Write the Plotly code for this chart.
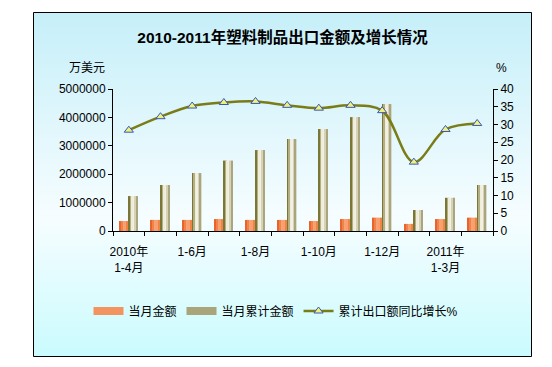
import plotly.graph_objects as go

categories = ["2010年1-4月", "1-5月", "1-6月", "1-7月", "1-8月", "1-9月", "1-10月",
              "1-11月", "1-12月", "2011年1-2月", "2011年1-3月", "2011年1-4月"]
tick_labels = ["2010年<br>1-4月", "", "1-6月", "", "1-8月", "", "1-10月", "",
               "1-12月", "", "2011年<br>1-3月", ""]
monthly = [350000, 390000, 390000, 420000, 390000, 390000, 350000, 420000, 470000, 250000, 420000, 470000]
cumulative = [1230000, 1620000, 2040000, 2480000, 2850000, 3240000, 3590000, 4010000, 4470000, 740000, 1170000, 1620000]
growth = [28.4, 32.2, 35.2, 36.2, 36.5, 35.4, 34.6, 35.4, 33.9, 19.4, 28.6, 30.3]

FONT = "Liberation Sans, Arial, Noto Sans CJK SC"
OFF = 8  # page body margin
W, H = 552 - OFF, 367 - OFF
L, R, T, B = 113, 493, 89, 231  # page coordinates of the plot area


def px(x):
    return (x - L) / (R - L)


def py(y):
    return (B - y) / (B - T)


fig = go.Figure()

ORANGE_MID = "#F39460"
CUM_MID = "#A9A47A"
LINE_COL = "#7A7C16"

# orange bars (gradient strips)
org_cols = ["#E9642C", "#F0824A", "#F7A272", "#F6A070", "#F08446"]
o0, o1 = -0.305, 0.0
n = len(org_cols)
for i, c in enumerate(org_cols):
    w = (o1 - o0) / n
    fig.add_trace(go.Bar(x=categories, y=monthly, offset=o0 + i * w, width=w,
                         marker=dict(color=c, line=dict(width=0)),
                         name="当月金额", legendgroup="m",
                         showlegend=False, yaxis="y", hoverinfo="y"))

cum_cols = ["#7A7636", "#B4AF82", "#EEECDC", "#F2F0E2", "#D6D2B6", "#ABA57E"]
c0, c1 = 0.0, 0.29
n = len(cum_cols)
for i, c in enumerate(cum_cols):
    w = (c1 - c0) / n
    fig.add_trace(go.Bar(x=categories, y=cumulative, offset=c0 + i * w, width=w,
                         marker=dict(color=c, line=dict(width=0)),
                         name="当月累计金额", legendgroup="c",
                         showlegend=False, yaxis="y", hoverinfo="y"))

# legend swatches for the bar series
fig.add_trace(go.Scatter(x=[None], y=[None], mode="lines", name="当月金额", legendgroup="m",
                         line=dict(color=ORANGE_MID, width=8)))
fig.add_trace(go.Scatter(x=[None], y=[None], mode="lines", name="当月累计金额", legendgroup="c",
                         line=dict(color=CUM_MID, width=8)))

fig.add_trace(go.Scatter(x=categories, y=growth, yaxis="y2", name="累计出口额同比增长%",
                         mode="lines+markers",
                         line=dict(color=LINE_COL, width=2.5, shape="spline", smoothing=1),
                         marker=dict(symbol="triangle-up", size=8, color="#EEF27A",
                                     line=dict(color="#3A56B8", width=1))))

# background box with vertical gradient
shapes = []
top, bot, mid = 12, 357, 218
c_top = (198, 239, 249)
c_mid = (246, 253, 255)
c_bot = (202, 251, 254)
step = 3
y = top
while y < bot:
    y2 = min(y + step, bot)
    yc = (y + y2) / 2
    if yc < mid:
        t = (yc - top) / (mid - top)
        col = tuple(round(c_top[k] + (c_mid[k] - c_top[k]) * t) for k in range(3))
    else:
        t = (yc - mid) / (bot - mid)
        col = tuple(round(c_mid[k] + (c_bot[k] - c_mid[k]) * t) for k in range(3))
    shapes.append(dict(type="rect", xref="paper", yref="paper", layer="below",
                       x0=px(33), x1=px(532), y0=py(y2), y1=py(y),
                       fillcolor="rgb(%d,%d,%d)" % col, line=dict(width=0)))
    y = y2
shapes.append(dict(type="rect", xref="paper", yref="paper", layer="below",
                   x0=px(33.5), x1=px(531.5), y0=py(356.5), y1=py(12.5),
                   fillcolor="rgba(0,0,0,0)", line=dict(color="black", width=1)))

fig.update_layout(
    width=W, height=H,
    margin=dict(l=L - OFF, r=W - (R - OFF), t=T - OFF, b=H - (B - OFF), autoexpand=False),
    paper_bgcolor="white", plot_bgcolor="rgba(0,0,0,0)",
    barmode="overlay",
    font=dict(family=FONT, size=12, color="black"),
    title=dict(text="<b>2010-2011年塑料制品出口金额及增长情况</b>",
               x=(282.5 - OFF) / W, xanchor="center", y=1 - (38 - OFF) / H, yanchor="middle",
               font=dict(family="Liberation Sans, Noto Sans CJK SC", size=15.5, color="black")),
    xaxis=dict(type="category", tickvals=categories, ticktext=tick_labels,
               tickson="boundaries", ticks="outside", ticklen=4, tickcolor="black",
               showline=True, linecolor="black", linewidth=1, showgrid=False,
               tickangle=0, ticklabelstandoff=10,
               tickfont=dict(size=12), range=[-0.5, 11.5]),
    yaxis=dict(range=[0, 5000000], dtick=1000000, tickformat="d",
               ticks="outside", ticklen=4, tickcolor="black",
               showline=True, linecolor="black", linewidth=1, showgrid=False,
               zeroline=False, tickfont=dict(size=12)),
    yaxis2=dict(range=[0, 40], dtick=5, overlaying="y", side="right",
                ticks="outside", ticklen=4, tickcolor="black",
                showline=True, linecolor="black", linewidth=1, showgrid=False,
                zeroline=False, tickfont=dict(size=12)),
    legend=dict(orientation="h", x=px(276), xanchor="center", y=py(311), yanchor="middle",
                bgcolor="rgba(0,0,0,0)", font=dict(size=12), traceorder="normal",
                itemwidth=30, tracegroupgap=0),
    shapes=shapes,
    annotations=[
        dict(text="万美元", xref="paper", yref="paper", x=px(86.5), y=py(68),
             showarrow=False, xanchor="center", yanchor="middle", font=dict(size=12)),
        dict(text="%", xref="paper", yref="paper", x=px(501), y=py(68),
             showarrow=False, xanchor="center", yanchor="middle", font=dict(size=12)),
    ],
    showlegend=True,
)

fig.write_html("out.html")
